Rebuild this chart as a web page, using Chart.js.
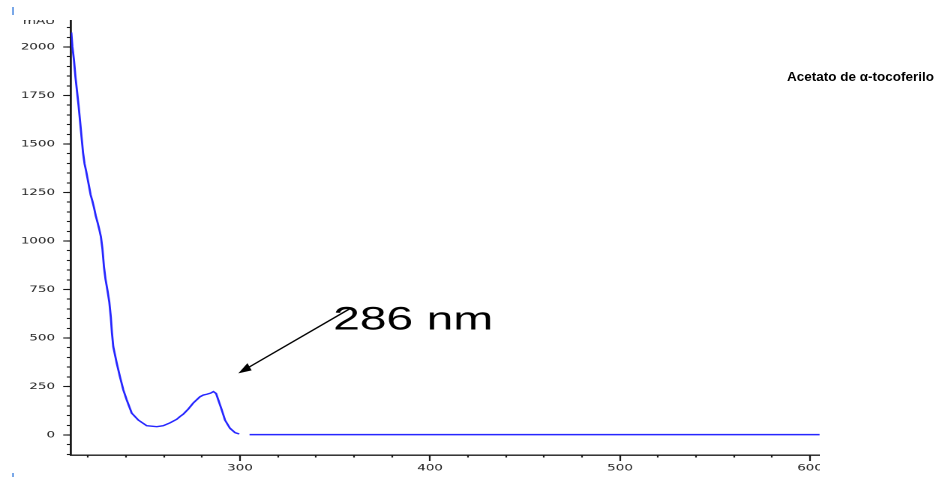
<!DOCTYPE html>
<html>
<head>
<meta charset="utf-8">
<script src="https://cdn.jsdelivr.net/npm/chart.js@4.4.1/dist/chart.umd.min.js"></script>
<style>
  html, body { margin: 0; padding: 0; background: #fff; }
  body { width: 940px; height: 479px; position: relative; overflow: hidden; }
  /* the spectrum plot is drawn narrow and widened 1.5x horizontally */
  #plot { position: absolute; left: 0; top: 20px; width: 547px; height: 459px;
          transform: scaleX(1.5); transform-origin: 0 0; }
  #title { position: absolute; left: 787px; top: 69px; white-space: nowrap;
           font: bold 13.5px "Liberation Sans", Arial, sans-serif; color: #000; }
  .mark { position: absolute; left: 12px; width: 2px; background: #7aa8e8; }
</style>
</head>
<body>
<div class="mark" style="top:7px;height:8px"></div>
<div class="mark" style="top:473px;height:4px"></div>
<div id="plot"><canvas id="spectrum" width="547" height="459"></canvas></div>
<div id="title">Acetato de α-tocoferilo</div>

<script>
// UV absorption spectrum (wavelength in nm, absorbance in mAU)
const wavelengthNm = [
  211.2, 211.8, 212.6, 213.4, 214.2, 215.0, 215.8, 216.6, 217.4, 218.2,
  219.0, 219.7, 220.5, 221.4, 222.3, 223.2, 224.1, 225.1, 226.0, 226.8,
  227.6, 228.4, 229.2, 230.3, 231.2, 232.0, 232.6, 233.3, 235.1, 236.8,
  238.6, 240.4, 243.0, 246.5, 250.9, 256.2, 259.6, 263.2, 266.7, 268.4,
  270.2, 272.8, 275.4, 278.9, 280.7, 282.5, 284.5, 286.0, 287.4, 288.6,
  290.4, 292.1, 294.7, 297.4, 299.6, 302.5, 305.0, 605.0
];
const absorbanceMAU = [
  2075, 2000, 1933, 1845, 1773, 1701, 1619, 1536, 1454, 1397,
  1361, 1325, 1284, 1237, 1206, 1170, 1129, 1093, 1057, 1021,
  959, 866, 804, 742, 686, 608, 526, 455, 371, 301,
  232, 180, 113, 77, 48, 43, 48, 63, 81, 95,
  108, 134, 165, 197, 206, 210, 216, 224, 214, 180,
  129, 77, 35, 12, 5, null, 2, 2
];

// axis ticks
const xTickValues = [300, 400, 500, 600];
const xTickLabels = ['300', '400', '500', '600'];
const yTickValues = [0, 250, 500, 750, 1000, 1250, 1500, 1750, 2000];
const yTickLabels = ['0', '250', '500', '750', '1000', '1250', '1500', '1750', '2000'];
const yUnitLabel = 'mAU';
const yUnitValue = 2130;
const peakLabel = '286 nm';

const X_MIN = 211.05, X_MAX = 605.5;
const Y_MIN = -103, Y_MAX = 2139;
const STRETCH = 1.5;
const AXIS_COLOR = '#1a1a1a';
const TICK_FONT = { family: '"DejaVu Sans", sans-serif', size: 9 };

function minorTicks(step) {
  return function (scale) {
    const ticks = [];
    for (let v = Math.ceil(scale.min / step) * step; v <= scale.max; v += step) {
      ticks.push({ value: v });
    }
    scale.ticks = ticks;
  };
}

// arrow and text marking the 286 nm band
const peakAnnotation = {
  id: 'peakAnnotation',
  afterDatasetsDraw(chart) {
    const { ctx, scales: { x, y } } = chart;
    ctx.save();
    // label
    ctx.font = '32px "Liberation Sans", Arial, sans-serif';
    ctx.fillStyle = '#000';
    ctx.textAlign = 'left';
    ctx.textBaseline = 'alphabetic';
    ctx.fillText(peakLabel, x.getPixelForValue(349), y.getPixelForValue(545));

    // arrow, head shaped in the widened space
    const tail = { x: x.getPixelForValue(358), y: y.getPixelForValue(652) };
    const tip = { x: x.getPixelForValue(299.1), y: y.getPixelForValue(318) };
    const rx = (tail.x - tip.x) * STRETCH, ry = tail.y - tip.y;
    const len = Math.hypot(rx, ry);
    const ux = rx / len, uy = ry / len;
    const headLen = 13, headHalf = 4.2;
    const bx = ux * headLen, by = uy * headLen;
    const p1 = { x: tip.x + (bx - uy * headHalf) / STRETCH, y: tip.y + by + ux * headHalf };
    const p2 = { x: tip.x + (bx + uy * headHalf) / STRETCH, y: tip.y + by - ux * headHalf };
    ctx.strokeStyle = '#000';
    ctx.lineWidth = 1.2;
    ctx.beginPath();
    ctx.moveTo(tail.x, tail.y);
    ctx.lineTo(tip.x + bx * 0.6 / STRETCH, tip.y + by * 0.6);
    ctx.stroke();
    ctx.fillStyle = '#000';
    ctx.beginPath();
    ctx.moveTo(tip.x, tip.y);
    ctx.lineTo(p1.x, p1.y);
    ctx.lineTo(p2.x, p2.y);
    ctx.closePath();
    ctx.fill();
    ctx.restore();
  }
};

new Chart(document.getElementById('spectrum'), {
  type: 'line',
  data: {
    datasets: [{
      data: wavelengthNm.map((nm, i) => ({ x: nm, y: absorbanceMAU[i] })),
      borderColor: 'rgb(38,38,255)',
      borderWidth: 1.4,
      pointRadius: 0,
      tension: 0,
      spanGaps: false,
      fill: false,
      xAxisID: 'x',
      yAxisID: 'y'
    }]
  },
  options: {
    responsive: false,
    devicePixelRatio: 2,
    animation: false,
    events: [],
    layout: { padding: 0, autoPadding: false },
    plugins: { legend: { display: false }, tooltip: { enabled: false } },
    scales: {
      x: {
        type: 'linear', position: 'bottom', weight: 1,
        min: X_MIN, max: X_MAX,
        afterBuildTicks: s => { s.ticks = xTickValues.map(v => ({ value: v })); },
        afterFit: s => { s.height = 24; s.paddingLeft = 0; s.paddingRight = 0; },
        border: { display: true, color: AXIS_COLOR, width: 1.4 },
        grid: { drawOnChartArea: false, drawTicks: true, tickLength: 6, tickColor: AXIS_COLOR, tickWidth: 1.1 },
        ticks: {
          autoSkip: false, maxRotation: 0, minRotation: 0, padding: 2,
          color: '#222', font: TICK_FONT,
          callback: (v, i) => xTickLabels[i]
        }
      },
      xMinor: {
        type: 'linear', position: 'bottom', weight: 0,
        min: X_MIN, max: X_MAX,
        afterBuildTicks: minorTicks(20),
        afterFit: s => { s.height = 0; s.paddingLeft = 0; s.paddingRight = 0; },
        border: { display: false },
        grid: { drawOnChartArea: false, drawTicks: true, tickLength: 2.5, tickColor: AXIS_COLOR, tickWidth: 1.1 },
        ticks: { display: false }
      },
      y: {
        type: 'linear', position: 'left', weight: 1,
        min: Y_MIN, max: Y_MAX,
        afterBuildTicks: s => {
          s.ticks = yTickValues.map(v => ({ value: v })).concat([{ value: yUnitValue }]);
        },
        afterFit: s => { s.width = 71 / STRETCH; s.paddingTop = 0; s.paddingBottom = 0; },
        border: { display: true, color: AXIS_COLOR, width: 1.4 },
        grid: {
          drawOnChartArea: false, drawTicks: true, tickLength: 5.2, tickWidth: 1.1,
          tickColor: c => (c.index >= yTickValues.length ? 'rgba(0,0,0,0)' : AXIS_COLOR)
        },
        ticks: {
          autoSkip: false, padding: 5.4, color: '#222', font: TICK_FONT,
          callback: (v, i) => (i < yTickLabels.length ? yTickLabels[i] : yUnitLabel)
        }
      },
      yMinor: {
        type: 'linear', position: 'left', weight: 0,
        min: Y_MIN, max: Y_MAX,
        afterBuildTicks: minorTicks(50),
        afterFit: s => { s.width = 0; s.paddingTop = 0; s.paddingBottom = 0; },
        border: { display: false },
        grid: { drawOnChartArea: false, drawTicks: true, tickLength: 2.8, tickColor: AXIS_COLOR, tickWidth: 1.1 },
        ticks: { display: false }
      }
    }
  },
  plugins: [peakAnnotation]
});
</script>
</body>
</html>
